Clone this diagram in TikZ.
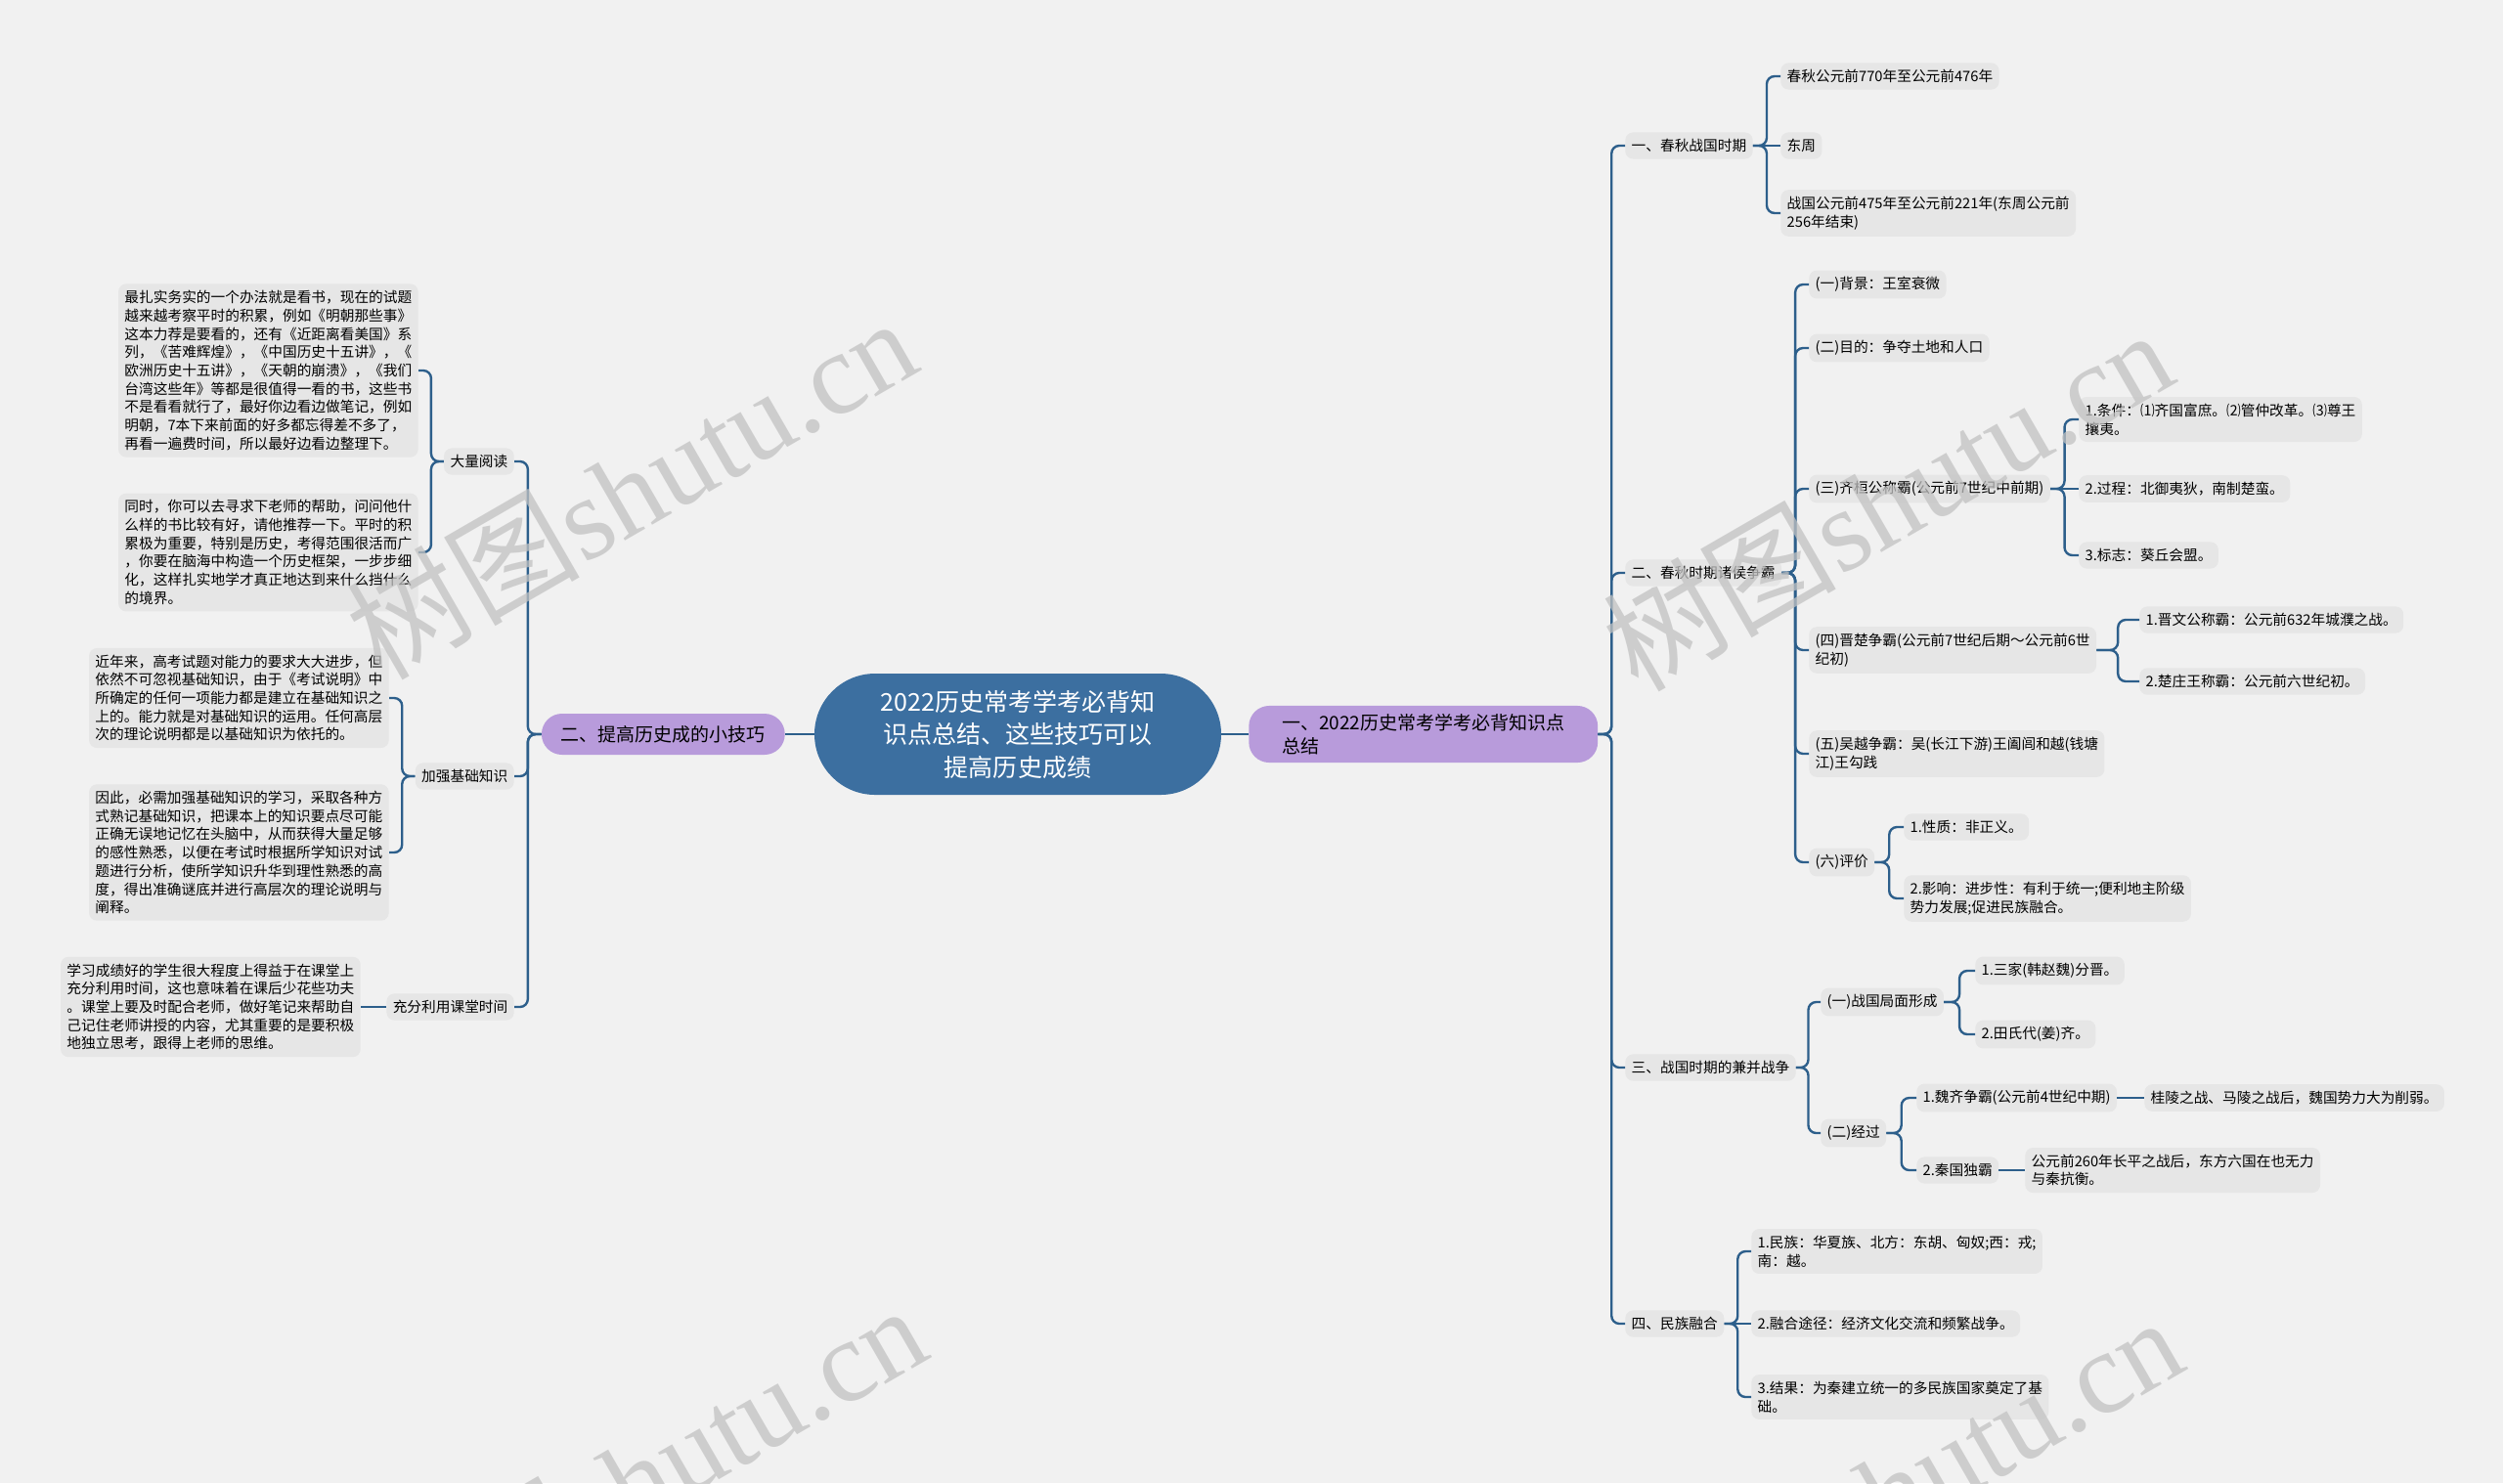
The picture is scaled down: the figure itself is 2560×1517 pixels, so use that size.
\documentclass[tikz,border=0pt]{standalone}
\usepackage{fontspec}
\setmainfont{Noto Sans CJK SC}
\newfontfamily\wmfont{Liberation Serif}
\usetikzlibrary{calc}
\definecolor{bgcol}{HTML}{F1F1F1}
\definecolor{boxcol}{HTML}{E6E6E6}
\definecolor{linecol}{HTML}{2D5F8B}
\definecolor{rootcol}{HTML}{3C6FA0}
\definecolor{topiccol}{HTML}{B89BDB}
\definecolor{wmcol}{HTML}{C2C2C2}
\tikzset{
  item/.style={fill=boxcol, rounded corners=2mm, inner xsep=1.6mm, inner ysep=1.7mm,
    align=left, font=\fontsize{10.45}{13.3}\selectfont},
  topic/.style={fill=topiccol, rounded corners=5.2mm, minimum height=10.5mm,
    inner xsep=5mm, inner ysep=2mm, align=left, font=\fontsize{13.5}{17.4}\selectfont},
  root/.style={fill=rootcol, text=white, rounded corners=15.5mm, minimum width=104mm,
    minimum height=31mm, align=center, font=\fontsize{17.8}{23.8}\selectfont},
  link/.style={draw=linecol, line width=1.7pt, rounded corners=2mm},
  mark wm/.style={text=wmcol, opacity=0.75, rotate=30, font=\fontsize{85}{90}\selectfont}
}
\newcommand\linkR[2]{\draw[link] let \p1=(#1.east), \p2=(#2.west) in
  (\p1) -- ({(\x1+\x2)/2},\y1) |- (\p2);}
\newcommand\linkL[2]{\draw[link] let \p1=(#1.west), \p2=(#2.east) in
  (\p1) -- ({(\x1+\x2)/2},\y1) |- (\p2);}

\begin{document}
\begin{tikzpicture}[x=0.25mm,y=-0.25mm]
  \useasboundingbox (0,0) rectangle (2560,1517);
  \fill[bgcol] (0,0) rectangle (2560,1517);

  \node[root] (root) at (1041,751) {2022历史常考学考必背知\\识点总结、这些技巧可以\\提高历史成绩};
  \node[topic, anchor=west, inner xsep=8.5mm] (R) at (1277,751) {一、2022历史常考学考必背知识点\\总结};
  \node[topic, anchor=east] (L) at (803,751) {二、提高历史成的小技巧};

  % right side
  \node[item, anchor=west] (r1) at (1662,149) {一、春秋战国时期};
  \node[item, anchor=west] (r2) at (1662,586) {二、春秋时期诸侯争霸};
  \node[item, anchor=west] (r3) at (1662,1092) {三、战国时期的兼并战争};
  \node[item, anchor=west] (r4) at (1662,1354) {四、民族融合};

  \node[item, anchor=west] (r11) at (1821,78) {春秋公元前770年至公元前476年};
  \node[item, anchor=west] (r12) at (1821,149) {东周};
  \node[item, anchor=west] (r13) at (1821,218) {战国公元前475年至公元前221年(东周公元前\\256年结束)};

  \node[item, anchor=west] (r21) at (1850,291) {(一)背景：王室衰微};
  \node[item, anchor=west] (r22) at (1850,356) {(二)目的：争夺土地和人口};
  \node[item, anchor=west] (r23) at (1850,500) {(三)齐桓公称霸(公元前7世纪中前期)};
  \node[item, anchor=west] (r24) at (1850,665) {(四)晋楚争霸(公元前7世纪后期～公元前6世\\纪初)};
  \node[item, anchor=west] (r25) at (1850,771) {(五)吴越争霸：吴(长江下游)王阖闾和越(钱塘\\江)王勾践};
  \node[item, anchor=west] (r26) at (1850,882) {(六)评价};

  \node[item, anchor=west] (r231) at (2126,429) {1.条件：⑴齐国富庶。⑵管仲改革。⑶尊王\\攘夷。};
  \node[item, anchor=west] (r232) at (2126,500) {2.过程：北御夷狄，南制楚蛮。};
  \node[item, anchor=west] (r233) at (2126,568) {3.标志：葵丘会盟。};
  \node[item, anchor=west] (r241) at (2188,634) {1.晋文公称霸：公元前632年城濮之战。};
  \node[item, anchor=west] (r242) at (2188,697) {2.楚庄王称霸：公元前六世纪初。};
  \node[item, anchor=west] (r261) at (1947,846) {1.性质：非正义。};
  \node[item, anchor=west] (r262) at (1947,919) {2.影响：进步性：有利于统一;便利地主阶级\\势力发展;促进民族融合。};

  \node[item, anchor=west] (r31) at (1862,1025) {(一)战国局面形成};
  \node[item, anchor=west] (r32) at (1862,1159) {(二)经过};
  \node[item, anchor=west] (r311) at (2020,993) {1.三家(韩赵魏)分晋。};
  \node[item, anchor=west] (r312) at (2020,1058) {2.田氏代(姜)齐。};
  \node[item, anchor=west] (r321) at (1960,1123) {1.魏齐争霸(公元前4世纪中期)};
  \node[item, anchor=west] (r322) at (1960,1197) {2.秦国独霸};
  \node[item, anchor=west] (r3211) at (2193,1123) {桂陵之战、马陵之战后，魏国势力大为削弱。};
  \node[item, anchor=west] (r3221) at (2071,1197) {公元前260年长平之战后，东方六国在也无力\\与秦抗衡。};

  \node[item, anchor=west] (r41) at (1791,1280) {1.民族：华夏族、北方：东胡、匈奴;西：戎;\\南：越。};
  \node[item, anchor=west] (r42) at (1791,1354) {2.融合途径：经济文化交流和频繁战争。};
  \node[item, anchor=west] (r43) at (1791,1429) {3.结果：为秦建立统一的多民族国家奠定了基\\础。};

  % left side
  \node[item, anchor=east] (l1) at (526,472) {大量阅读};
  \node[item, anchor=east] (l2) at (526,794) {加强基础知识};
  \node[item, anchor=east] (l3) at (526,1030) {充分利用课堂时间};

  \node[item, anchor=east] (l11) at (428,379) {最扎实务实的一个办法就是看书，现在的试题\\越来越考察平时的积累，例如《明朝那些事》\\这本力荐是要看的，还有《近距离看美国》系\\列，《苦难辉煌》，《中国历史十五讲》，《\\欧洲历史十五讲》，《天朝的崩溃》，《我们\\台湾这些年》等都是很值得一看的书，这些书\\不是看看就行了，最好你边看边做笔记，例如\\明朝，7本下来前面的好多都忘得差不多了，\\再看一遍费时间，所以最好边看边整理下。};
  \node[item, anchor=east] (l12) at (428,565) {同时，你可以去寻求下老师的帮助，问问他什\\么样的书比较有好，请他推荐一下。平时的积\\累极为重要，特别是历史，考得范围很活而广\\，你要在脑海中构造一个历史框架，一步步细\\化，这样扎实地学才真正地达到来什么挡什么\\的境界。};
  \node[item, anchor=east] (l21) at (398,714) {近年来，高考试题对能力的要求大大进步，但\\依然不可忽视基础知识，由于《考试说明》中\\所确定的任何一项能力都是建立在基础知识之\\上的。能力就是对基础知识的运用。任何高层\\次的理论说明都是以基础知识为依托的。};
  \node[item, anchor=east] (l22) at (398,872) {因此，必需加强基础知识的学习，采取各种方\\式熟记基础知识，把课本上的知识要点尽可能\\正确无误地记忆在头脑中，从而获得大量足够\\的感性熟悉，以便在考试时根据所学知识对试\\题进行分析，使所学知识升华到理性熟悉的高\\度，得出准确谜底并进行高层次的理论说明与\\阐释。};
  \node[item, anchor=east] (l31) at (369,1030) {学习成绩好的学生很大程度上得益于在课堂上\\充分利用时间，这也意味着在课后少花些功夫\\。课堂上要及时配合老师，做好笔记来帮助自\\己记住老师讲授的内容，尤其重要的是要积极\\地独立思考，跟得上老师的思维。};

  \draw[link] (root.east) -- (R.west);
  \draw[link] (root.west) -- (L.east);
  \foreach \c in {r1,r2,r3,r4} \linkR{R}{\c};
  \foreach \c in {r11,r13} \linkR{r1}{\c};
  \draw[link] (r1.east) -- (r12.west);
  \foreach \c in {r21,r22,r23,r24,r25,r26} \linkR{r2}{\c};
  \foreach \c in {r231,r233} \linkR{r23}{\c};
  \draw[link] (r23.east) -- (r232.west);
  \foreach \c in {r241,r242} \linkR{r24}{\c};
  \foreach \c in {r261,r262} \linkR{r26}{\c};
  \foreach \c in {r31,r32} \linkR{r3}{\c};
  \foreach \c in {r311,r312} \linkR{r31}{\c};
  \foreach \c in {r321,r322} \linkR{r32}{\c};
  \draw[link] (r321.east) -- (r3211.west);
  \draw[link] (r322.east) -- (r3221.west);
  \foreach \c in {r41,r43} \linkR{r4}{\c};
  \draw[link] (r4.east) -- (r42.west);
  \foreach \c in {l1,l2,l3} \linkL{L}{\c};
  \foreach \c in {l11,l12} \linkL{l1}{\c};
  \foreach \c in {l21,l22} \linkL{l2}{\c};
  \draw[link] (l3.west) -- (l31.east);

  % watermark
  \begin{scope}
    \clip (0,0) rectangle (2560,1517);
    \foreach \p in {(645,498),(1930,510),(655,1508),(1940,1520)}
      \node[mark wm] at \p {树图\wmfont shutu.cn};
  \end{scope}
\end{tikzpicture}
\end{document}
